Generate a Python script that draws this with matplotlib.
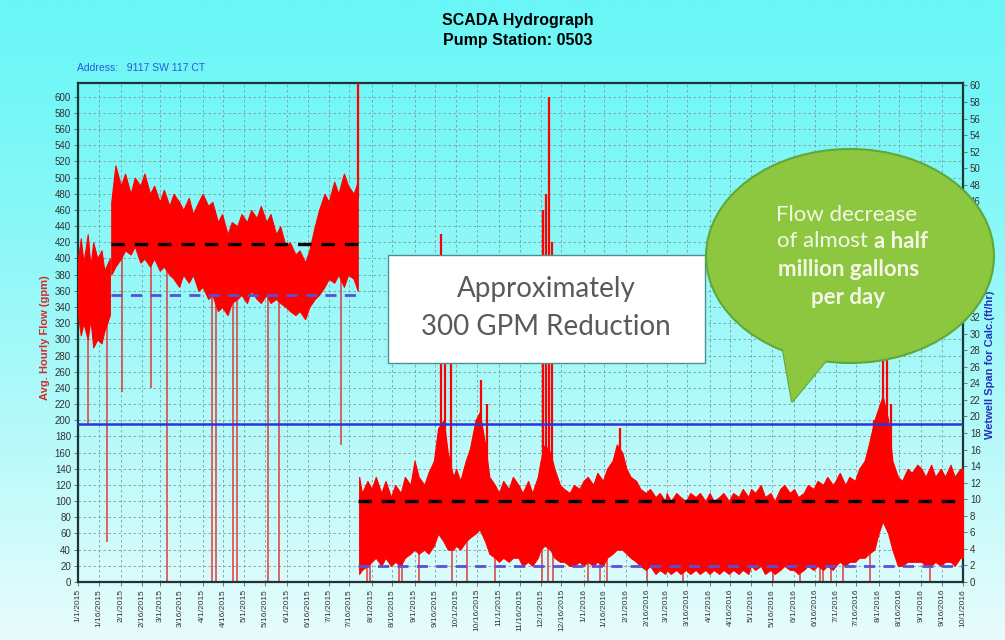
import numpy as np
import pandas as pd
import matplotlib
matplotlib.use("Agg")
import matplotlib.pyplot as plt
import matplotlib.dates as mdates
from matplotlib.patches import Rectangle, Ellipse, Polygon

# ---------------- data ----------------
seg1_dates = ["2015-01-01", "2015-01-03", "2015-01-05", "2015-01-08", "2015-01-10",
              "2015-01-12", "2015-01-15", "2015-01-18", "2015-01-20", "2015-01-24"]
seg1_upper = [400, 425, 395, 430, 390, 420, 400, 410, 385, 400]
seg1_lower = [330, 305, 320, 300, 325, 290, 300, 295, 310, 330]

seg2_dates = ["2015-01-25", "2015-01-28", "2015-02-01", "2015-02-04", "2015-02-08",
              "2015-02-11", "2015-02-15", "2015-02-18", "2015-02-22", "2015-02-25",
              "2015-03-01", "2015-03-04", "2015-03-08", "2015-03-11", "2015-03-15",
              "2015-03-18", "2015-03-22", "2015-03-25", "2015-03-29", "2015-04-01",
              "2015-04-05", "2015-04-08", "2015-04-12", "2015-04-15", "2015-04-19",
              "2015-04-22", "2015-04-26", "2015-04-29", "2015-05-03", "2015-05-06",
              "2015-05-10", "2015-05-13", "2015-05-17", "2015-05-20", "2015-05-24",
              "2015-05-27", "2015-05-31", "2015-06-03", "2015-06-07", "2015-06-10",
              "2015-06-14", "2015-06-17", "2015-06-21", "2015-06-24", "2015-06-28",
              "2015-07-01", "2015-07-05", "2015-07-08", "2015-07-12", "2015-07-15",
              "2015-07-19", "2015-07-22"]
seg2_upper = [470, 515, 490, 505, 480, 500, 490, 505, 480, 490,
              470, 485, 465, 480, 470, 460, 475, 455, 470, 480,
              465, 470, 445, 455, 430, 445, 440, 455, 445, 460,
              450, 465, 445, 455, 430, 440, 415, 420, 405, 410,
              395, 410, 440, 460, 480, 470, 495, 480, 505, 490,
              480, 495]
seg2_lower = [380, 390, 400, 410, 405, 415, 395, 400, 390, 400,
              385, 390, 380, 375, 365, 380, 370, 380, 360, 365,
              350, 355, 335, 340, 330, 345, 350, 355, 345, 360,
              350, 345, 355, 345, 350, 345, 340, 335, 330, 335,
              325, 340, 350, 355, 365, 375, 370, 380, 365, 380,
              375, 360]

seg3_dates = ["2015-07-23", "2015-07-25", "2015-07-29",
              "2015-08-01", "2015-08-04", "2015-08-08", "2015-08-11", "2015-08-15",
              "2015-08-18", "2015-08-22", "2015-08-25", "2015-08-29",
              "2015-09-01", "2015-09-04", "2015-09-08", "2015-09-11", "2015-09-15",
              "2015-09-18", "2015-09-22", "2015-09-25", "2015-09-29",
              "2015-10-01", "2015-10-04", "2015-10-08", "2015-10-11", "2015-10-15",
              "2015-10-18", "2015-10-22", "2015-10-25", "2015-10-29",
              "2015-11-01", "2015-11-04", "2015-11-08", "2015-11-11", "2015-11-15",
              "2015-11-18", "2015-11-22", "2015-11-25", "2015-11-29",
              "2015-12-01", "2015-12-04", "2015-12-08", "2015-12-11", "2015-12-15",
              "2015-12-18", "2015-12-22", "2015-12-25", "2015-12-29",
              "2016-01-01", "2016-01-04", "2016-01-08", "2016-01-11", "2016-01-15",
              "2016-01-18", "2016-01-22", "2016-01-25", "2016-01-29",
              "2016-02-01", "2016-02-04", "2016-02-08", "2016-02-11", "2016-02-15",
              "2016-02-18", "2016-02-22", "2016-02-25", "2016-02-29",
              "2016-03-01", "2016-03-04", "2016-03-08", "2016-03-11", "2016-03-15",
              "2016-03-18", "2016-03-22", "2016-03-25", "2016-03-29",
              "2016-04-01", "2016-04-04", "2016-04-08", "2016-04-11", "2016-04-15",
              "2016-04-18", "2016-04-22", "2016-04-25", "2016-04-29",
              "2016-05-01", "2016-05-04", "2016-05-08", "2016-05-11", "2016-05-15",
              "2016-05-18", "2016-05-22", "2016-05-25", "2016-05-29",
              "2016-06-01", "2016-06-04", "2016-06-08", "2016-06-11", "2016-06-15",
              "2016-06-18", "2016-06-22", "2016-06-25", "2016-06-29",
              "2016-07-01", "2016-07-04", "2016-07-08", "2016-07-11", "2016-07-15",
              "2016-07-18", "2016-07-22", "2016-07-25", "2016-07-29",
              "2016-08-01", "2016-08-04", "2016-08-08", "2016-08-11", "2016-08-15",
              "2016-08-18", "2016-08-22", "2016-08-25", "2016-08-29",
              "2016-09-01", "2016-09-04", "2016-09-08", "2016-09-11", "2016-09-15",
              "2016-09-18", "2016-09-22", "2016-09-25", "2016-09-29", "2016-10-01"]
seg3_upper = [130, 110, 125,
              115, 130, 110, 125, 105, 120, 110, 130, 120,
              150, 130, 120, 135, 150, 190, 200, 160, 130,
              140, 125, 150, 165, 200, 210, 170, 130, 120,
              110, 125, 115, 130, 120, 110, 125, 110, 130,
              150, 170, 160, 140, 120, 115, 110, 120, 115,
              125, 130, 120, 135, 125, 140, 150, 170, 160,
              140, 130, 125, 115, 110, 115, 105, 110, 100,
              110, 100, 110, 105, 100, 110, 105, 110, 100,
              110, 100, 105, 110, 100, 110, 105, 115, 105,
              115, 110, 120, 105, 110, 100, 115, 120, 110,
              115, 105, 110, 120, 115, 125, 120, 130, 120,
              125, 135, 120, 130, 125, 140, 150, 170, 200,
              215, 230, 200, 150, 130, 125, 140, 135, 145,
              140, 130, 145, 130, 140, 130, 145, 130, 140, 140]
seg3_lower = [10, 15, 20,
              25, 30, 20, 30, 20, 25, 20, 30, 35,
              40, 35, 40, 35, 45, 60, 50, 40, 40,
              45, 40, 50, 55, 60, 65, 50, 35, 30,
              25, 30, 25, 30, 30, 20, 25, 20, 30,
              40, 45, 40, 30, 25, 25, 20, 20, 25,
              20, 25, 20, 25, 20, 30, 35, 40, 40,
              35, 30, 25, 20, 15, 20, 10, 15, 10,
              15, 10, 15, 10, 15, 10, 15, 10, 15,
              10, 15, 10, 15, 10, 15, 10, 15, 10,
              20, 15, 20, 10, 15, 10, 15, 20, 15,
              15, 10, 15, 20, 15, 20, 15, 20, 15,
              20, 25, 20, 25, 25, 30, 30, 35, 40,
              60, 75, 60, 40, 20, 20, 25, 25, 25,
              25, 20, 20, 25, 20, 25, 25, 20, 30, 30]

spike_dates = ["2015-07-22", "2015-09-20", "2015-09-23", "2015-09-27", "2015-10-19",
               "2015-10-23", "2015-12-03", "2015-12-05", "2015-12-07", "2015-12-09",
               "2016-01-27", "2016-07-29", "2016-08-04", "2016-08-07", "2016-08-10"]
spike_tops = [620, 430, 330, 280, 250, 220, 460, 480, 600, 420, 190, 200, 300, 280, 220]

dip_dates = ["2015-01-08", "2015-01-22", "2015-02-02", "2015-02-23", "2015-03-06",
             "2015-04-08", "2015-04-11", "2015-04-23", "2015-04-26", "2015-05-18",
             "2015-05-26", "2015-07-10", "2015-07-29", "2015-07-31", "2015-08-21",
             "2015-08-23", "2015-09-04", "2015-09-28", "2015-10-09", "2015-10-29",
             "2015-12-02", "2015-12-06", "2015-12-10", "2016-01-04", "2016-01-13",
             "2016-01-18", "2016-02-16", "2016-03-13", "2016-05-17", "2016-06-05",
             "2016-06-20", "2016-06-22", "2016-06-28", "2016-07-06", "2016-07-26",
             "2016-09-07"]
dip_bottoms = [195, 50, 235, 240, 0, 0, 0, 0, 0, 0, 0, 170, 0, 0, 0, 0, 0, 0, 0, 0,
               0, 0, 0, 0, 0, 0, 0, 0, 0, 0, 0, 0, 0, 0, 0, 0]

before_period = ["2015-01-25", "2015-07-22"]
after_period = ["2015-07-22", "2016-10-01"]
before_avg, before_min = 418, 355
after_avg, after_min = 100, 20
wetwell_level = 195

left_ticks = list(range(0, 601, 20))
right_ticks = list(range(0, 61, 2))

# ---------------- figure ----------------
W, H = 1005, 640
fig = plt.figure(figsize=(W / 100, H / 100), dpi=100)

def fx(px):
    return px / W

def fy(py):
    return 1 - py / H

# background gradient
bg = fig.add_axes([0, 0, 1, 1], zorder=-10)
bg.axis("off")
top_c = np.array(matplotlib.colors.to_rgb("#6af6f6"))
bot_c = np.array(matplotlib.colors.to_rgb("#e9fcfc"))
t = np.linspace(0, 1, 256) ** 1.3
grad = top_c[None, :] * (1 - t[:, None]) + bot_c[None, :] * t[:, None]
bg.imshow(grad[:, None, :], aspect="auto", extent=[0, 1, 0, 1])
bg.set_xlim(0, 1)
bg.set_ylim(0, 1)

ax = fig.add_axes([fx(78), fy(582), fx(963 - 78), (582 - 83) / H], zorder=1)
ax.set_facecolor("none")

red = "#ff0000"
for d, up, lo in [(seg1_dates, seg1_upper, seg1_lower),
                  (seg2_dates, seg2_upper, seg2_lower),
                  (seg3_dates, seg3_upper, seg3_lower)]:
    dd = pd.to_datetime(d)
    ax.fill_between(dd, lo, up, color=red, lw=0.8, edgecolor=red, zorder=3)

# spikes and dips
all_d = pd.to_datetime(seg1_dates + seg2_dates + seg3_dates)
all_up = np.array(seg1_upper + seg2_upper + seg3_upper)
all_lo = np.array(seg1_lower + seg2_lower + seg3_lower)
xn = mdates.date2num(all_d)
sd = pd.to_datetime(spike_dates)
ax.vlines(sd, np.interp(mdates.date2num(sd), xn, all_up) - 20, spike_tops,
          color=red, lw=1.6, zorder=3)
dd = pd.to_datetime(dip_dates)
ax.vlines(dd, dip_bottoms, np.interp(mdates.date2num(dd), xn, all_lo) + 10,
          color="#e23a3a", lw=1.3, alpha=0.85, zorder=2.5)

# reference lines
ax.plot(pd.to_datetime(before_period), [before_avg] * 2, color="black", lw=2.4,
        ls=(0, (4, 3)), zorder=4)
ax.plot(pd.to_datetime(before_period), [before_min] * 2, color="#5b4fd8", lw=2.0,
        ls=(0, (4, 3)), zorder=4)
ax.plot(pd.to_datetime(after_period), [after_avg] * 2, color="black", lw=2.4,
        ls=(0, (4, 3)), zorder=4)
ax.plot(pd.to_datetime(after_period), [after_min] * 2, color="#5b4fd8", lw=2.0,
        ls=(0, (4, 3)), zorder=4)
ax.axhline(wetwell_level, color="#2b35d8", lw=1.8, zorder=4)

# axes formatting
x0, x1 = pd.Timestamp("2015-01-01"), pd.Timestamp("2016-10-01")
ax.set_xlim(x0, x1)
ax.set_ylim(0, 617)
tick_dates = []
for y in (2015, 2016):
    for m in range(1, 13):
        for dday in (1, 16):
            dt = pd.Timestamp(year=y, month=m, day=dday)
            if dt <= x1:
                tick_dates.append(dt)
ax.set_xticks(tick_dates)
ax.set_xticklabels([f"{d.month}/{d.day}/{d.year}" for d in tick_dates],
                   rotation=90, fontsize=6, color="#333333",
                   family="Liberation Sans")
ax.set_yticks(left_ticks)
ax.set_yticklabels([str(v) for v in left_ticks], fontsize=7, color="#333333",
                   family="Liberation Sans")
ax.tick_params(length=3, width=0.6, color="#556666", pad=2)
ax.grid(True, color="#7c9c9c", lw=0.6, ls=(0, (3, 3)))
for s in ax.spines.values():
    s.set_color("#1c3636")
    s.set_linewidth(1.6)

ax2 = ax.twinx()
ax2.set_ylim(0, 60.3)
ax2.set_yticks(right_ticks)
ax2.set_yticklabels([str(v) for v in right_ticks], fontsize=7, color="#333333",
                    family="Liberation Sans")
ax2.tick_params(length=3, width=0.6, color="#556666", pad=2)
for s in ax2.spines.values():
    s.set_visible(False)

# titles and labels
fig.text(fx(518), fy(20), "SCADA Hydrograph", ha="center", va="center",
         fontsize=11.5, fontweight="bold", family="Liberation Sans")
fig.text(fx(518), fy(40), "Pump Station: 0503", ha="center", va="center",
         fontsize=11.5, fontweight="bold", family="Liberation Sans")
fig.text(fx(77), fy(68), "Address:   9117 SW 117 CT", ha="left", va="center",
         fontsize=7.5, color="#2a5ad8", family="Liberation Sans")
fig.text(fx(45), fy(338), "Avg. Hourly Flow (gpm)", rotation=90, ha="center",
         va="center", fontsize=8, color="#d42a2a", fontweight="bold",
         family="Liberation Sans")
fig.text(fx(990), fy(365), "Wetwell Span for Calc.(ft/hr)", rotation=90,
         ha="center", va="center", fontsize=8, color="#2233bb",
         fontweight="bold", family="Liberation Sans", zorder=5)

# annotation box
box = Rectangle((fx(388), fy(363)), fx(705 - 388), (363 - 255) / H,
                transform=fig.transFigure, facecolor="white",
                edgecolor="#4f8f8f", lw=1.0, zorder=20)
fig.add_artist(box)
fig.text(fx(546), fy(289), "Approximately", ha="center", va="center",
         fontsize=20, color="#5a5a5a", family="Lato", zorder=21)
fig.text(fx(546), fy(327), "300 GPM Reduction", ha="center", va="center",
         fontsize=20, color="#5a5a5a", family="Lato", zorder=21)

# speech bubble
green = "#8dc63f"
edge_g = "#5fa83a"
tail_pts = [(fx(782), fy(345)), (fx(792), fy(402)), (fx(830), fy(356))]
tail = Polygon(tail_pts, closed=True, transform=fig.transFigure,
               facecolor=green, edgecolor=edge_g, lw=1.5, zorder=22)
fig.add_artist(tail)
ell = Ellipse((fx(850), fy(256)), fx(288), 214 / H, transform=fig.transFigure,
              facecolor=green, edgecolor=edge_g, lw=1.5, zorder=23)
fig.add_artist(ell)
tail2 = Polygon(tail_pts, closed=True, transform=fig.transFigure,
                facecolor=green, edgecolor="none", zorder=24)
fig.add_artist(tail2)

tc = "#f4f7e6"
fig.text(fx(846), fy(215), "Flow decrease", ha="center", va="center",
         fontsize=16, color=tc, family="Lato", zorder=25)
fig.text(fx(868), fy(241), "of almost", ha="right", va="center",
         fontsize=16, color=tc, family="Lato", zorder=25)
fig.text(fx(874), fy(241), "a half", ha="left", va="center",
         fontsize=16, color=tc, family="Lato", fontweight="bold", zorder=25)
fig.text(fx(849), fy(269), "million gallons", ha="center", va="center",
         fontsize=16, color=tc, family="Lato", fontweight="bold", zorder=25)
fig.text(fx(848), fy(297), "per day", ha="center", va="center",
         fontsize=16, color=tc, family="Lato", fontweight="bold", zorder=25)

fig.savefig("out.png", dpi=100)
